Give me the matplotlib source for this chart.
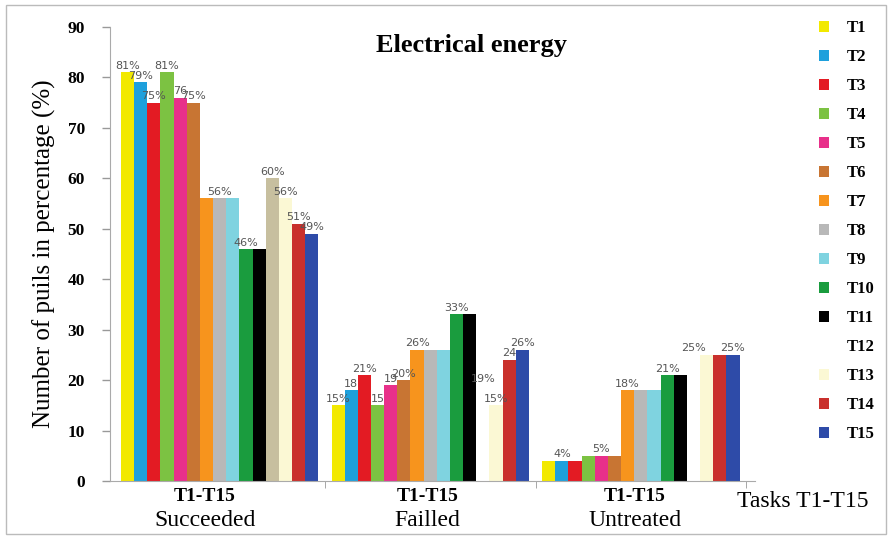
import matplotlib.pyplot as plt
from matplotlib.patches import Patch, Rectangle

# data
groups = ['Succeeded', 'Failled', 'Untreated']
tasks = ['T%d' % i for i in range(1, 16)]

succeeded = [81, 79, 75, 81, 76, 75, 56, 56, 56, 46, 46, 60, 56, 51, 49]
failed = [15, 18, 21, 15, 19, 20, 26, 26, 26, 33, 33, 19, 15, 24, 26]
untreated = [4, 4, 4, 5, 5, 5, 18, 18, 18, 21, 21, 25, 25, 25, 25]

lab_succ = ['81%', '79%', '75%', '81%', '76', '75%', '', '56%', '', '46%', '', '60%', '56%', '51%', '49%']
lab_fail = ['15%', '18', '21%', '15', '19', '20%', '26%', '', '', '33%', '', '19%', '15%', '24', '26%']
lab_untr = ['', '4%', '', '', '5%', '', '18%', '', '', '21%', '', '25%', '', '', '25%']

colors = ['#f2e900', '#1ea0dc', '#e31b23', '#7cc242', '#e8308a', '#c87533', '#f7941d',
          '#b8b8b8', '#7fd3e0', '#1a9c3e', '#000000', '#c7bf9f', '#fbf8d4', '#c9302c', '#2e4ba8']

plt.rcParams['font.family'] = ['Liberation Serif', 'DejaVu Serif']

fig = plt.figure(figsize=(8.93, 5.38), dpi=100)
ax = fig.add_axes([0.123, 0.106, 0.722, 0.844])

values = list(zip(succeeded, failed, untreated))
labels = list(zip(lab_succ, lab_fail, lab_untr))
n = len(tasks)
step = n + 1

for j in range(n):
    xs = [g * step + j for g in range(len(groups))]
    cols = [colors[j]] * len(groups)
    if tasks[j] == 'T12':
        # T12 only shows up in the first group
        cols = [colors[j], 'white', 'white']
    bars = ax.bar(xs, values[j], width=1.0, color=cols, edgecolor='none')
    ax.bar_label(bars, labels=labels[j], padding=1, fontsize=8, color='#555555',
                 family='DejaVu Sans')

ax.set_xlim(-1.34, 2 * step + n + 0.64)
ax.set_ylim(0, 90)
ax.set_yticks(range(0, 91, 10))
ax.tick_params(axis='y', length=6, width=1, color='#999999', pad=12, labelsize=12.5)
for t in ax.get_yticklabels():
    t.set_fontweight('bold')
ax.set_xticks([])
ax.set_xticks([g * step + n for g in range(len(groups))], minor=True)
ax.tick_params(axis='x', which='minor', length=5, color='#999999')

for s in ['top', 'right']:
    ax.spines[s].set_visible(False)
for s in ['left', 'bottom']:
    ax.spines[s].set_color('#aaaaaa')

ax.set_ylabel('Number of puils in percentage (%)', fontsize=18, labelpad=8)

label_x = [0.147, 0.493, 0.814]
for g, name in enumerate(groups):
    ax.text(label_x[g], -0.015, 'T1-T15', transform=ax.transAxes, ha='center', va='top',
            fontsize=14, fontweight='bold')
    ax.text(label_x[g], -0.065, name, transform=ax.transAxes, ha='center', va='top',
            fontsize=17)
ax.text(0.972, -0.045, 'Tasks T1-T15', transform=ax.transAxes, ha='left', va='center',
        fontsize=17)

ax.text(0.561, 0.958, 'Electrical energy', transform=ax.transAxes, ha='center', va='center',
        fontsize=19, fontweight='bold')

handles = []
for j in range(n):
    fc = 'white' if tasks[j] == 'T12' else colors[j]
    handles.append(Patch(facecolor=fc, edgecolor='none', label=tasks[j]))
fig.legend(handles=handles, loc='upper left', bbox_to_anchor=(0.9, 0.99), frameon=False,
           handlelength=0.6, handleheight=0.6, handletextpad=1.1, labelspacing=0.78,
           prop={'family': 'Liberation Serif', 'weight': 'bold', 'size': 12})

fig.patches.append(Rectangle((0.007, 0.008), 0.985, 0.982, transform=fig.transFigure,
                             fill=False, edgecolor='#bbbbbb', linewidth=1))

fig.savefig('out.png', dpi=100)
